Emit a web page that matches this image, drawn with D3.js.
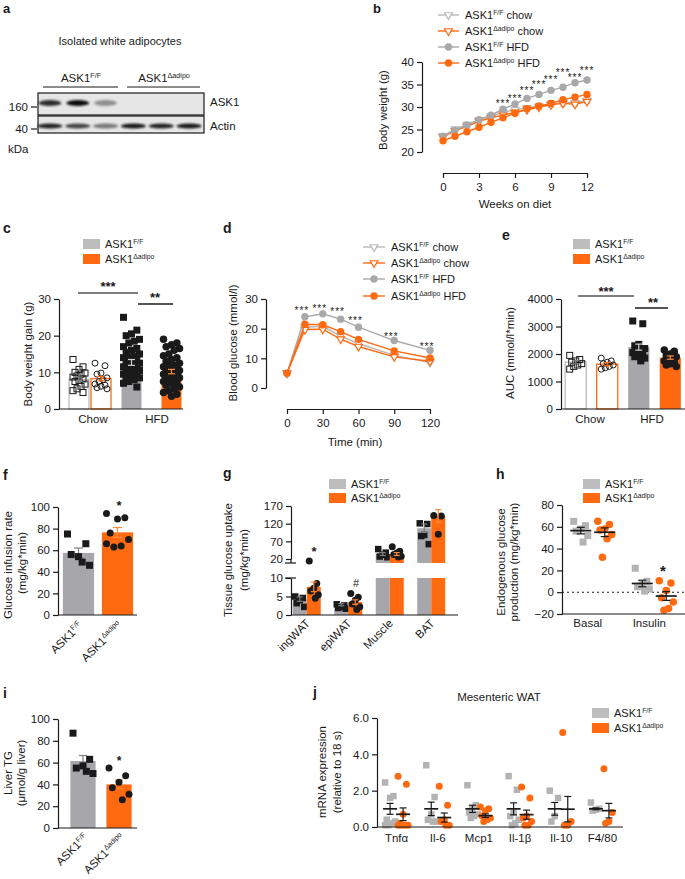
<!DOCTYPE html>
<html>
<head>
<meta charset="utf-8">
<script src="https://cdn.jsdelivr.net/npm/d3@7"></script>
<style>
  body { margin: 0; background: #fff; }
  text { font-family: "Liberation Sans", Arial, Helvetica, sans-serif; fill: #1a1a1a; }
</style>
</head>
<body>
<script>
// ---------- values ----------
// a: blot band strength per lane (0-1)
var blotLanes = [1, 2, 3, 4, 5, 6]
var ask1Band = [0.85, 1.0, 0.4, 0, 0, 0]
var actinBand = [0.9, 0.75, 0.5, 0.95, 0.9, 0.95]

// b: body weight (g)
var weeks = d3.range(0, 13)
var bwFFchow = [23.6, 25.1, 26.1, 27.1, 28.0, 28.8, 29.4, 29.8, 30.2, 30.7, 31.0, 30.9, 31.5]
var bwKOchow = [23.3, 24.7, 25.7, 26.8, 27.6, 28.2, 28.8, 29.4, 30.0, 30.5, 30.8, 30.6, 31.2]
var bwFFhfd = [23.5, 24.8, 26.0, 27.2, 28.2, 29.5, 30.7, 31.9, 32.8, 33.7, 34.4, 35.4, 36.0]
var bwKOhfd = [22.5, 23.5, 24.5, 25.5, 26.6, 27.6, 28.6, 29.6, 30.2, 30.8, 31.6, 32.2, 32.8]
var bwErrFFchow = [0.3, 0.3, 0.3, 0.4, 0.4, 0.4, 0.5, 0.5, 0.6, 0.7, 0.8, 0.8, 0.7]
var bwErrKOhfd = [0.2, 0.2, 0.3, 0.3, 0.3, 0.3, 0.4, 0.4, 0.6, 0.6, 0.5, 0.5, 0.5]
var bwStarWeeks = [5, 6, 7, 8, 9, 10, 11, 12]
var bwStarAt = [31.1, 32.2, 34.0, 35.3, 36.4, 38.0, 36.9, 38.4]

// c: body weight gain (g)
var cGroups = ['Chow F/F', 'Chow KO', 'HFD F/F', 'HFD KO']
var cMeans = [8.1, 8.3, 12.7, 10.2]
var cSem = [0.6, 0.6, 0.8, 0.6]
var cPts = [
  [13.5, 11.5, 10.8, 10, 9.8, 9.5, 9, 8.7, 8.2, 7.8, 7.5, 6.8, 6.2, 5.5, 5, 4.5],
  [12.5, 11.8, 9.8, 9.5, 8.5, 8, 7.5, 6.8, 6.5, 6.2, 5.8, 5.5],
  [25, 21.5, 20.5, 20, 19, 18.5, 18, 17, 16.5, 16, 15.5, 15, 14.5, 14, 14, 13.5, 13, 13, 12.5, 12, 12,
   11.5, 11.5, 11, 11, 10.5, 10, 10, 9.5, 9.5, 9, 8.5, 8.5, 8, 7.5, 7, 6],
  [19, 18, 17.5, 17, 16.5, 16, 15, 14.5, 14, 13.5, 13, 12.5, 12, 12, 11.5, 11, 11, 10.5, 10.5, 10, 10,
   9.5, 9.5, 9, 9, 8.5, 8, 8, 7.5, 7, 7, 6.5, 6, 5.5, 5, 4.5, 4, 3.5]
]

// d: blood glucose (mmol/l) in GTT
var gttTimes = [0, 15, 30, 45, 60, 90, 120]
var bgFFchow = [5, 20.5, 20.8, 17.5, 15.0, 11.0, 8.6]
var bgKOchow = [5, 19.7, 19.8, 16.5, 14.0, 10.5, 9.0]
var bgFFhfd = [5, 24.0, 25.0, 23.2, 20.5, 16.0, 12.7]
var bgKOhfd = [5, 21.5, 21.3, 19.0, 16.4, 12.5, 10.1]
var bgStarTimes = [15, 30, 45, 60, 90, 120]
var bgStarAt = [26.6, 27.3, 26.3, 23.3, 17.9, 14.5]

// e: AUC
var eMeans = [1700, 1630, 2250, 1870]
var eSem = [60, 60, 110, 60]
var ePts = [
  [1950, 1800, 1750, 1700, 1650, 1600, 1550, 1450],
  [1850, 1750, 1700, 1650, 1600, 1550, 1500, 1450],
  [3200, 3100, 2350, 2300, 2200, 2150, 2100, 2050, 2000, 1950, 1900, 1850, 1750],
  [2150, 2100, 2000, 1950, 1900, 1850, 1800, 1750, 1700, 1650, 1600, 1550]
]

// f: glucose infusion rate
var genotypes = ['F/F', 'Δadipo']
var fMeans = [57.5, 76.5]
var fSem = [4.5, 4.5]
var fPts = [[75, 66, 54, 56, 46, 49], [94, 90, 89, 76, 70, 64, 63, 66]]

// g: tissue glucose uptake
var tissues = ['ingWAT', 'epiWAT', 'Muscle', 'BAT']
var gMeanFF = [4.3, 2.8, 34, 107]
var gMeanKO = [7.6, 3.5, 34, 142]
var gSemFF = [0.6, 0.3, 4, 12]
var gSemKO = [1.3, 0.6, 4, 18]
var gPtsFF = [[5, 4.6, 4, 3.2, 2.2], [2.9, 2.6, 2.2, 1.9, 1.7], [48, 38, 32, 27, 25], [121, 119, 88, 85, 62]]
var gPtsKO = [[14, 8.5, 7.2, 6.5, 5.5, 4.5], [5.8, 4.8, 4, 3, 2.2, 1.5], [55, 42, 37, 33, 28, 26], [143, 142, 90]]

// h: endogenous glucose production
var conditions = ['Basal', 'Insulin']
var hMeanFF = [56.5, 8], hSemFF = [3, 3]
var hMeanKO = [55, -3.5], hSemKO = [4, 4]
var hPtsFF = [[65, 61, 58, 56, 52, 46], [22, 10, 7, 5, 3, 1]]
var hPtsKO = [[65, 62, 58, 57, 53, 49, 32], [10.5, 8.5, 1.5, -5, -9, -15, -16.5]]

// i: liver TG
var iMeans = [61.5, 40]
var iSem = [5, 4]
var iPts = [[87, 63, 57, 55, 50, 52], [55, 48, 42, 37, 31, 26]]

// j: mesenteric WAT mRNA
var genes = ['Tnfα', 'Il-6', 'Mcp1', 'Il-1β', 'Il-10', 'F4/80']
var jMeanFF = [1, 1, 1, 1, 1, 1]
var jSemFF = [0.3, 0.37, 0.2, 0.33, 0.35, 0.05]
var jMeanKO = [0.7, 0.52, 0.62, 0.68, 0.98, 0.9]
var jSemKO = [0.35, 0.25, 0.1, 0.25, 0.7, 0.4]
var jPtsFF = [[2.45, 1.7, 1.6, 0.4, 0.3, 0.2, 0.1, 0.1], [3.4, 1.65, 0.7, 0.4, 0.3, 0.3], [2.3, 1.2, 1.0, 0.8, 0.7, 0.6, 0.5],
              [2.8, 2.05, 0.8, 0.6, 0.4, 0.2, 0.1], [2.0, 1.6, 0.6, 0.3], [1.35, 1.0, 0.95, 0.9]]
var jPtsKO = [[2.8, 2.35, 0.7, 0.2, 0.1, 0.1, 0.1, 0.1], [2.25, 1.2, 0.4, 0.3, 0.1, 0.1], [1.1, 1.0, 0.9, 0.6, 0.5, 0.4, 0.3],
              [2.2, 1.6, 0.6, 0.5, 0.3, 0.1, 0.1], [5.2, 0.3, 0.1, 0.1], [3.2, 0.8, 0.3, 0.2]]

// ---------- helpers ----------
var svg = d3.select('body').append('svg').attr('width', 685).attr('height', 879)
var INK = '#1a1a1a', GRAY = '#a6a6ab', LGRAY = '#bdbdbd', ORANGE = '#ff6a10'
var ERRG = '#808084', ERRO = '#ff8a3a'

function txt(x, y, s, size, anchor, weight) {
  return svg.append('text').attr('x', x).attr('y', y)
    .attr('font-size', size || 11).attr('text-anchor', anchor || 'start')
    .attr('font-weight', weight || 'normal').text(s)
}
function vtxt(x, y, s, size) {
  return svg.append('text').attr('transform', 'translate(' + x + ',' + y + ') rotate(-90)')
    .attr('text-anchor', 'middle').attr('font-size', size || 11.5).text(s)
}
function rtxt(x, y, s) {
  return svg.append('text').attr('transform', 'translate(' + x + ',' + y + ') rotate(-45)')
    .attr('text-anchor', 'end').attr('font-size', 11.5).text(s)
}
// "ASK1" with superscript genotype
function ask(t, sup, tail) {
  t.append('tspan').text('ASK1')
  t.append('tspan').attr('dy', -4).attr('font-size', '0.62em').text(sup)
  if (tail) t.append('tspan').attr('dy', 4).text(' ' + tail)
  return t
}
function styleAxis(g) {
  g.attr('font-family', null).attr('font-size', 11.5)
  g.selectAll('path, line').attr('stroke', INK).attr('stroke-width', 1.2)
  g.selectAll('text').attr('fill', INK)
}
function yAxis(x, scale, ticks, fmt) {
  return svg.append('g').attr('transform', 'translate(' + x + ',0)')
    .call(d3.axisLeft(scale).tickValues(ticks).tickSize(5).tickPadding(3).tickSizeOuter(0).tickFormat(fmt || d3.format('d')))
    .call(styleAxis)
}
function xAxis(y, scale, ticks) {
  return svg.append('g').attr('transform', 'translate(0,' + y + ')')
    .call(d3.axisBottom(scale).tickValues(ticks).tickSize(5).tickPadding(5).tickSizeOuter(0).tickFormat(d3.format('d')))
    .call(styleAxis)
}
function line(x1, y1, x2, y2, color, w, dash) {
  return svg.append('line').attr('x1', x1).attr('y1', y1).attr('x2', x2).attr('y2', y2)
    .attr('stroke', color || INK).attr('stroke-width', w || 1.2).attr('stroke-dasharray', dash || null)
}
function legendBoxes(x, y, step) {
  [[LGRAY, 'F/F'], [ORANGE, 'Δadipo']].forEach(function(e, i) {
    svg.append('rect').attr('x', x).attr('y', y + i * step).attr('width', 17).attr('height', 10).attr('fill', e[0])
    ask(txt(x + 22, y + i * step + 9, '', 11), e[1])
  })
}
function errBar(cx, m, s, y, color, cap, meanW) {
  line(cx, y(m - s), cx, y(m + s), color, 1.2)
  line(cx - cap / 2, y(m + s), cx + cap / 2, y(m + s), color, 1.2)
  line(cx - cap / 2, y(m - s), cx + cap / 2, y(m - s), color, 1.2)
  if (meanW) line(cx - meanW / 2, y(m), cx + meanW / 2, y(m), color, 1.7)
}
function jit(i, spread) { return ((i * 5) % 7 - 3) / 3 * spread }
function dots(cx, vals, y, shape, fill, stroke, size, spread) {
  var g = svg.append('g')
  if (shape === 'sq') {
    g.selectAll('rect').data(vals).enter().append('rect')
      .attr('x', function(d, i) { return cx + jit(i, spread) - size / 2 })
      .attr('y', function(d) { return y(d) - size / 2 })
      .attr('width', size).attr('height', size)
      .attr('fill', fill).attr('stroke', stroke || 'none').attr('stroke-width', 1)
  } else {
    g.selectAll('circle').data(vals).enter().append('circle')
      .attr('cx', function(d, i) { return cx + jit(i, spread) })
      .attr('cy', function(d) { return y(d) })
      .attr('r', size / 2)
      .attr('fill', fill).attr('stroke', stroke || 'none').attr('stroke-width', 1)
  }
}
function bar(cx, w, v, y, fill, stroke) {
  svg.append('rect').attr('x', cx - w / 2).attr('y', y(v)).attr('width', w).attr('height', y(0) - y(v))
    .attr('fill', fill).attr('stroke', stroke || 'none').attr('stroke-width', 1.3)
}
function marker(g, type, x, y, color) {
  if (type === 'tri') {
    g.append('path').attr('d', d3.symbol(d3.symbolTriangle, 26)())
      .attr('transform', 'translate(' + x + ',' + y + ') rotate(180)')
      .attr('fill', '#fff').attr('stroke', color).attr('stroke-width', 1.2)
  } else {
    g.append('circle').attr('cx', x).attr('cy', y).attr('r', 3.7).attr('fill', color)
  }
}
function lineChart(xs, sx, sy, series) {
  var g = svg.append('g')
  series.forEach(function(s) {
    var path = d3.line().x(function(d, i) { return sx(xs[i]) }).y(function(d) { return sy(d) })
    g.append('path').datum(s.vals).attr('d', path).attr('fill', 'none')
      .attr('stroke', s.color).attr('stroke-width', 1.4)
    if (s.err) s.vals.forEach(function(v, i) {
      var x = sx(xs[i])
      g.append('line').attr('x1', x).attr('x2', x).attr('y1', sy(v - s.err[i])).attr('y2', sy(v + s.err[i])).attr('stroke', s.color)
      g.append('line').attr('x1', x - 3).attr('x2', x + 3).attr('y1', sy(v - s.err[i])).attr('y2', sy(v - s.err[i])).attr('stroke', s.color)
      g.append('line').attr('x1', x - 3).attr('x2', x + 3).attr('y1', sy(v + s.err[i])).attr('y2', sy(v + s.err[i])).attr('stroke', s.color)
    })
    s.vals.forEach(function(v, i) { marker(g, s.mk, sx(xs[i]), sy(v), s.color) })
  })
}
function lineLegend(x1, x2, rows, tx, series) {
  series.forEach(function(s, i) {
    line(x1, rows[i], x2, rows[i], s.color, 1.4)
    marker(svg, s.mk, (x1 + x2) / 2, rows[i], s.color)
    ask(txt(tx, rows[i] + 4, '', 11), s.sup, s.tail)
  })
}
function stars(xs, ys, sx, sy, size) {
  xs.forEach(function(v, i) {
    txt(sx(v), sy(ys[i]) + 5, '***', size, 'middle').attr('letter-spacing', 1)
  })
}

// ---------- a: western blot ----------
txt(3, 13, 'a', 13, 'start', 'bold')
txt(120, 45, 'Isolated white adipocytes', 11, 'middle')
ask(txt(81, 82, '', 11.5, 'middle'), 'F/F')
ask(txt(164, 82, '', 11.5, 'middle'), 'Δadipo')
line(43, 87, 118, 87, INK, 1)
line(127, 87, 200, 87, INK, 1)
svg.append('defs').append('filter').attr('id', 'blur').attr('x', '-50%').attr('y', '-150%')
  .attr('width', '200%').attr('height', '400%')
  .append('feGaussianBlur').attr('stdDeviation', 1.1)
var lane = d3.scaleBand().domain(blotLanes).range([36, 203])
svg.append('rect').attr('x', 38).attr('y', 93).attr('width', 166).attr('height', 22)
  .attr('fill', '#e6e6e6').attr('stroke', INK).attr('stroke-width', 1.2)
svg.append('rect').attr('x', 38).attr('y', 116).attr('width', 166).attr('height', 17)
  .attr('fill', '#e6e6e6').attr('stroke', INK).attr('stroke-width', 1.2)
svg.append('g').selectAll('ellipse').data(ask1Band).enter().append('ellipse')
  .attr('cx', function(d, i) { return lane(blotLanes[i]) + lane.bandwidth() / 2 })
  .attr('cy', 103).attr('rx', 11.5).attr('ry', 3)
  .attr('fill', '#111').attr('opacity', function(d) { return d }).attr('filter', 'url(#blur)')
svg.append('g').selectAll('ellipse').data(actinBand).enter().append('ellipse')
  .attr('cx', function(d, i) { return lane(blotLanes[i]) + lane.bandwidth() / 2 })
  .attr('cy', 126).attr('rx', 12.5).attr('ry', 2.6)
  .attr('fill', '#111').attr('opacity', function(d) { return d }).attr('filter', 'url(#blur)')
txt(28, 111, '160', 11.5, 'end')
line(31, 107, 37, 107)
txt(28, 133, '40', 11.5, 'end')
line(31, 129, 37, 129)
txt(210, 106, 'ASK1', 11.5)
txt(210, 130, 'Actin', 11.5)
txt(8, 153, 'kDa', 11.5)

// ---------- b: body weight ----------
txt(373, 13, 'b', 13, 'start', 'bold')
var bx = d3.scaleLinear().domain([0, 12]).range([443, 587])
var by = d3.scaleLinear().domain([20, 40]).range([152, 62])
yAxis(422, by, [20, 25, 30, 35, 40])
xAxis(173, bx, [0, 3, 6, 9, 12])
vtxt(387, 110, 'Body weight (g)')
txt(515, 208, 'Weeks on diet', 11.5, 'middle')
var bSeries = [
  { sup: 'F/F', tail: 'chow', vals: bwFFchow, err: bwErrFFchow, color: '#b8b8b8', mk: 'tri' },
  { sup: 'Δadipo', tail: 'chow', vals: bwKOchow, err: null, color: ORANGE, mk: 'tri' },
  { sup: 'F/F', tail: 'HFD', vals: bwFFhfd, err: null, color: '#a9a9ab', mk: 'dot' },
  { sup: 'Δadipo', tail: 'HFD', vals: bwKOhfd, err: bwErrKOhfd, color: ORANGE, mk: 'dot' }
]
lineChart(weeks, bx, by, bSeries)
lineLegend(438, 459, [15, 31, 47, 63], 465, bSeries)
stars(bwStarWeeks, bwStarAt, bx, by, 10)

// ---------- c: body weight gain ----------
txt(3, 233, 'c', 14, 'start', 'bold')
legendBoxes(83, 239, 15)
var cy = d3.scaleLinear().domain([0, 30]).range([409, 299])
var cx = d3.scaleOrdinal().domain(cGroups).range([79, 101, 131.5, 171.5])
var cStyle = [
  { fill: '#fff', stroke: LGRAY, shape: 'sq', df: 'none', ds: INK, size: 6, err: ERRG, spread: 6 },
  { fill: '#fff', stroke: ORANGE, shape: 'ci', df: 'none', ds: INK, size: 6, err: ORANGE, spread: 6 },
  { fill: GRAY, stroke: null, shape: 'sq', df: INK, ds: null, size: 7, err: '#d0d0d0', spread: 8 },
  { fill: ORANGE, stroke: null, shape: 'ci', df: INK, ds: null, size: 7.5, err: ERRO, spread: 8 }
]
cGroups.forEach(function(k, i) {
  var st = cStyle[i]
  bar(cx(k), 20, cMeans[i], cy, st.fill, st.stroke)
  dots(cx(k), cPts[i], cy, st.shape, st.df, st.ds, st.size, st.spread)
  errBar(cx(k), cMeans[i], cSem[i], cy, st.err, 7, 0)
})
yAxis(59, cy, [0, 10, 20, 30])
line(59, 409, 183, 409)
txt(93, 423, 'Chow', 11.5, 'middle')
txt(157, 423, 'HFD', 11.5, 'middle')
vtxt(32, 354, 'Body weight gain (g)')
line(78, 293, 138, 293, '#555', 1.3)
txt(108, 291, '***', 13, 'middle', 'bold')
line(138, 304, 173, 304, INK, 1.3)
txt(155, 302, '**', 13, 'middle', 'bold')

// ---------- d: GTT ----------
txt(223, 233, 'd', 14, 'start', 'bold')
var dx = d3.scaleLinear().domain([0, 120]).range([287, 430])
var dy = d3.scaleLinear().domain([0, 30]).range([388, 299])
yAxis(266, dy, [0, 10, 20, 30])
xAxis(409, dx, [0, 30, 60, 90, 120])
vtxt(237, 343, 'Blood glucose (mmol/l)')
txt(355, 446, 'Time (min)', 11.5, 'middle')
var dSeries = [
  { sup: 'F/F', tail: 'chow', vals: bgFFchow, err: null, color: '#b8b8b8', mk: 'tri' },
  { sup: 'Δadipo', tail: 'chow', vals: bgKOchow, err: null, color: ORANGE, mk: 'tri' },
  { sup: 'F/F', tail: 'HFD', vals: bgFFhfd, err: null, color: '#a9a9ab', mk: 'dot' },
  { sup: 'Δadipo', tail: 'HFD', vals: bgKOhfd, err: null, color: ORANGE, mk: 'dot' }
]
lineChart(gttTimes, dx, dy, dSeries)
lineLegend(363, 385, [247, 263, 279, 296], 391, dSeries)
stars(bgStarTimes, bgStarAt, function(v) { return dx(v) - 3 }, dy, 10)

// ---------- e: AUC ----------
txt(502, 240, 'e', 14, 'start', 'bold')
legendBoxes(573, 239, 15)
var ey = d3.scaleLinear().domain([0, 4000]).range([409, 299])
var ex = d3.scaleBand().domain(cGroups).range([562, 684]).paddingInner(0.33).paddingOuter(0.1)
cGroups.forEach(function(k, i) {
  var st = cStyle[i], c = ex(k) + ex.bandwidth() / 2
  bar(c, ex.bandwidth(), eMeans[i], ey, st.fill, st.stroke)
  dots(c, ePts[i], ey, st.shape, st.df, st.ds, st.size, 6)
  errBar(c, eMeans[i], eSem[i], ey, st.err, 7, 0)
})
yAxis(561, ey, [0, 1000, 2000, 3000, 4000])
line(561, 409, 685, 409)
txt(590, 423, 'Chow', 11.5, 'middle')
txt(652, 423, 'HFD', 11.5, 'middle')
vtxt(514, 353, 'AUC (mmol/l*min)')
line(578, 296, 634, 296, '#555', 1.3)
txt(606, 296, '***', 13, 'middle', 'bold')
line(635, 308, 668, 308, INK, 1.3)
txt(653, 307, '**', 13, 'middle', 'bold')

// ---------- f: glucose infusion rate ----------
txt(3, 480, 'f', 14, 'start', 'bold')
var fy = d3.scaleLinear().domain([0, 100]).range([615, 507])
var fx = d3.scaleBand().domain(genotypes).range([59, 137]).paddingInner(0.2).paddingOuter(0.1)
genotypes.forEach(function(k, i) {
  var c = fx(k) + fx.bandwidth() / 2
  bar(c, fx.bandwidth(), fMeans[i], fy, i ? ORANGE : GRAY)
  errBar(c, fMeans[i], fSem[i], fy, i ? ERRO : ERRG, 9, 0)
  dots(c, fPts[i], fy, i ? 'ci' : 'sq', INK, null, 7, 11)
  ask(rtxt(c + 5, 626, ''), k)
})
yAxis(58, fy, [0, 20, 40, 60, 80, 100])
line(58, 615, 137, 615)
txt(119, 510, '*', 13, 'middle', 'bold')
vtxt(12, 565, 'Glucose infusion rate')
vtxt(26, 563, '(mg/kg*min)')

// ---------- g: tissue glucose uptake (broken axis) ----------
txt(223, 478, 'g', 14, 'start', 'bold')
legendBoxes(329, 479, 14)
var gyLo = d3.scaleLinear().domain([0, 10]).range([615, 578])
var gyHi = d3.scaleLinear().domain([20, 170]).range([559, 506])
var gy = function(v) { return v > 10 ? gyHi(v) : gyLo(v) }
var gx = d3.scaleBand().domain(tissues).range([286, 452]).paddingInner(0.325).paddingOuter(0.1625)
function gBar(c, v, s, fill, err, pts, shape) {
  if (v <= 10) {
    bar(c, 14, v, gyLo, fill)
  } else {
    bar(c, 14, 10, gyLo, fill)
    svg.append('rect').attr('x', c - 7).attr('y', gyHi(v)).attr('width', 14)
      .attr('height', gyHi(20) + 4 - gyHi(v)).attr('fill', fill)
  }
  var ys = v > 10 ? gyHi : gyLo
  dots(c, pts, gy, shape, INK, null, shape === 'sq' ? 6.5 : 7, 4.5)
  errBar(c, v, s, ys, err, 6, 0)
}
tissues.forEach(function(k, i) {
  var c = gx(k) + gx.bandwidth() / 2
  gBar(c - 7, gMeanFF[i], gSemFF[i], GRAY, ERRG, gPtsFF[i], 'sq')
  gBar(c + 7, gMeanKO[i], gSemKO[i], ORANGE, ERRO, gPtsKO[i], 'ci')
  rtxt(c + 4, 624, k)
})
yAxis(291, gyLo, [0, 5, 10])
yAxis(291, gyHi, [20, 70, 120, 170])
line(291, 559, 291, 563)
line(285, 563, 296, 563)
line(285, 578, 296, 578)
line(291, 615, 458, 615)
txt(314, 556, '*', 13, 'middle', 'bold')
txt(356, 587, '#', 11, 'middle')
vtxt(232, 560, 'Tissue glucose uptake')
vtxt(248, 560, '(mg/kg*min)')

// ---------- h: endogenous glucose production ----------
txt(496, 479, 'h', 14, 'start', 'bold')
legendBoxes(583, 479, 14)
var hy = d3.scaleLinear().domain([-20, 80]).range([614, 505])
var hx = d3.scaleBand().domain(conditions).range([562, 685])
line(562, hy(0), 685, hy(0), INK, 1.1, '2,3')
conditions.forEach(function(k, i) {
  var c = hx(k) + hx.bandwidth() / 2
  dots(c - 12, hPtsFF[i], hy, 'sq', '#b3b3b3', null, 7, 7)
  dots(c + 12, hPtsKO[i], hy, 'ci', ORANGE, null, 7.5, 7)
  errBar(c - 12, hMeanFF[i], hSemFF[i], hy, INK, 8, 21)
  errBar(c + 12, hMeanKO[i], hSemKO[i], hy, INK, 8, 21)
  txt(c - 5, 627, k, 11.5, 'middle')
})
yAxis(562, hy, [-20, 0, 20, 40, 60, 80])
line(562, 614, 685, 614)
txt(663, 576, '*', 15, 'middle', 'bold')
vtxt(505, 562, 'Endogenous glucose')
vtxt(518, 562, 'production (mg/kg*min)')

// ---------- i: liver TG ----------
txt(3, 698, 'i', 14, 'start', 'bold')
var iy = d3.scaleLinear().domain([0, 100]).range([828, 719])
var ix = d3.scaleBand().domain(genotypes).range([65, 137]).paddingInner(0.3).paddingOuter(0.15)
genotypes.forEach(function(k, i) {
  var c = ix(k) + ix.bandwidth() / 2
  bar(c, ix.bandwidth(), iMeans[i], iy, i ? ORANGE : GRAY)
  errBar(c, iMeans[i], iSem[i], iy, i ? ERRO : ERRG, 8, 0)
  dots(c, iPts[i], iy, i ? 'ci' : 'sq', INK, null, 7, 10)
  ask(rtxt(c + 6, 838, ''), k)
})
yAxis(58, iy, [0, 20, 40, 60, 80, 100])
line(58, 828, 137, 828)
txt(119, 765, '*', 12, 'middle', 'bold')
vtxt(12, 773, 'Liver TG')
vtxt(25, 773, '(μmol/g liver)')

// ---------- j: mesenteric WAT ----------
txt(313, 697, 'j', 14, 'start', 'bold')
txt(499, 701, 'Mesenteric WAT', 11.5, 'middle')
legendBoxes(592, 708, 15)
var jy = d3.scaleLinear().domain([0, 6]).range([827, 718])
var jx = d3.scaleBand().domain(genes).range([376, 623])
genes.forEach(function(k, i) {
  var c = jx(k) + jx.bandwidth() / 2
  dots(c - 6.5, jPtsFF[i], jy, 'sq', '#b3b3b3', null, 6.5, 5)
  dots(c + 6.5, jPtsKO[i], jy, 'ci', ORANGE, null, 7, 5)
  errBar(c - 6.5, jMeanFF[i], jSemFF[i], jy, INK, 7, 14)
  errBar(c + 6.5, jMeanKO[i], jSemKO[i], jy, INK, 7, 14)
  txt(c, 842, k, 11.5, 'middle')
})
yAxis(377, jy, [0, 2, 4, 6], d3.format('.1f'))
line(377, 827, 623, 827)
vtxt(326, 772, 'mRNA expression')
vtxt(341, 772, '(relative to 18 s)')
</script>
</body>
</html>
